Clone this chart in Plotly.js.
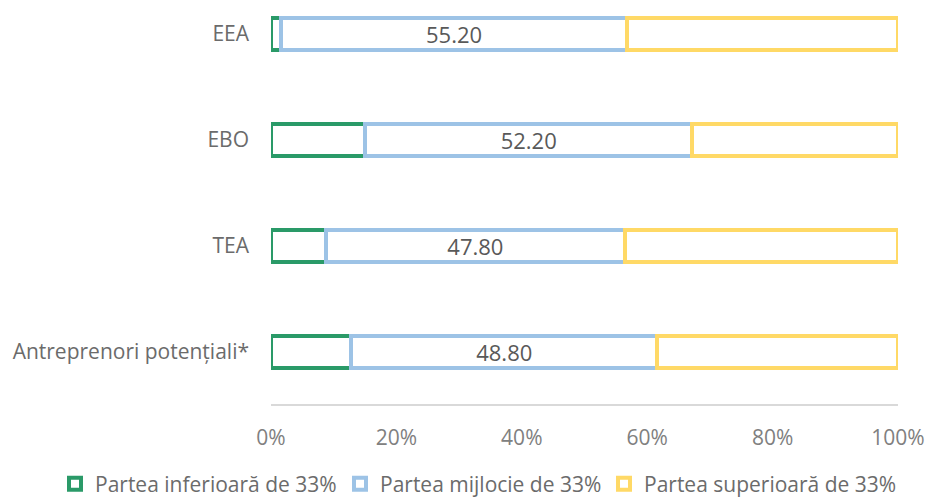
<!DOCTYPE html>
<html><head><meta charset="utf-8">
<script src="https://cdn.plot.ly/plotly-3.0.1.min.js"></script>
<style>html,body{margin:0;padding:0;background:#fff}#chart{width:925px;height:498px}</style>
</head><body><div id="chart"></div>
<script>
const categories = ["Antreprenori potențiali*", "TEA", "EBO", "EEA"];
const lowerShare = [12.8, 8.7, 15.0, 1.6];
const middleShare = [48.8, 47.8, 52.2, 55.2];
const upperShare = [38.4, 43.5, 32.8, 43.2];
const seriesNames = ["Partea inferioară de 33%", "Partea mijlocie de 33%", "Partea superioară de 33%"];
const xTicks = [0, 20, 40, 60, 80, 100];

const font = "'Open Sans', sans-serif";
const colors = ["#2a9a68", "#9dc3e6", "#ffd966"];
const legendIds = ["legend", "legend2", "legend3"];
const mk = (vals, i, withText) => ({
  type: "bar", orientation: "h", y: categories, x: vals, name: seriesNames[i],
  legend: legendIds[i],
  width: 0.3,
  marker: {color: "#ffffff", line: {color: colors[i], width: 4}},
  text: withText ? vals.map(v => v.toFixed(2)) : undefined,
  textposition: withText ? "inside" : "none",
  insidetextanchor: "middle",
  constraintext: "none",
  textfont: {family: font, size: 22, color: "#595959"},
  hoverinfo: "x+y+name"
});
const data = [mk(lowerShare, 0, false), mk(middleShare, 1, true), mk(upperShare, 2, false)];
const legendBase = (xPix) => ({orientation: "h", xref: "container", yref: "container",
  x: xPix / 925, xanchor: "left", y: 1 - 484 / 498, yanchor: "middle",
  font: {size: 21, color: "#6b6b6b"}, itemwidth: 30, bgcolor: "rgba(0,0,0,0)"});
const layout = {
  width: 925, height: 498, barmode: "stack",
  margin: {l: 271, r: 27, t: 0, b: 94},
  paper_bgcolor: "#fff", plot_bgcolor: "#fff",
  font: {family: font, size: 21, color: "#666666"},
  xaxis: {range: [0, 100], tickvals: xTicks, ticktext: xTicks.map(v => v + "%"),
    showgrid: false, zeroline: false, showline: true, linecolor: "#d9d9d9", linewidth: 2,
    ticks: "", ticklabelstandoff: 14, tickfont: {size: 21, color: "#808080"}, fixedrange: true},
  yaxis: {type: "category", range: [-0.49, 3.32], showgrid: false, zeroline: false, showline: false,
    ticks: "", ticklabelstandoff: 21, tickfont: {size: 21, color: "#6b6b6b"}},
  showlegend: true,
  legend: legendBase(55),
  legend2: legendBase(340),
  legend3: legendBase(604),
  bargap: 0.7
};
Plotly.newPlot("chart", data, layout, {displayModeBar: false, staticPlot: true});
</script></body></html>
